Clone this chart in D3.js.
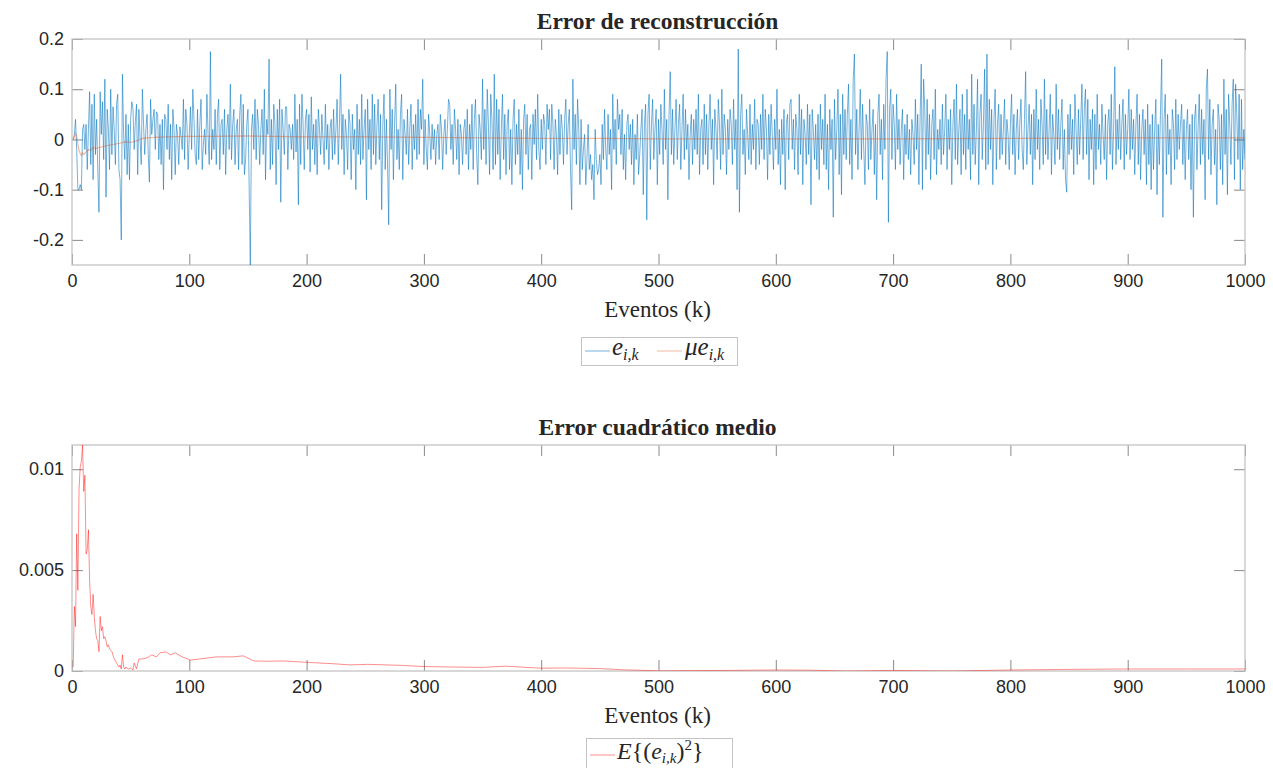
<!DOCTYPE html>
<html>
<head>
<meta charset="utf-8">
<script src="https://cdn.jsdelivr.net/npm/d3@7"></script>
<style>
  html, body { margin: 0; padding: 0; background: #fff; }
  svg text { fill: #262626; }
</style>
</head>
<body>
<script>
// reconstruction error e_{i,k}, k = 1..1000
var errValues = [
 0,.01,.04,-.02,-.10,-.10,-.09,-.10,.02,.03,-.02,.03,-.06,.02,.095,-.05,.07,-.08,.09,-.03,
 .04,-.06,-.145,.095,.01,.075,-.04,.12,-.115,.06,.02,-.06,.10,-.03,.065,.02,-.05,.07,.09,-.06,
 -.08,-.20,.13,.01,-.04,.05,-.07,.03,-.08,.04,.075,.06,-.02,.035,.07,-.07,.06,.005,-.05,.10,
 .03,-.03,.02,.05,-.03,-.085,.08,.01,.04,.06,-.02,.055,.05,-.04,.03,-.05,.04,-.10,.05,.04,
 -.02,.07,-.04,.03,-.08,.06,.02,-.07,.03,.01,-.05,.025,.005,-.02,.08,-.04,.06,.03,-.06,.01,
 .065,-.02,.10,.04,-.03,-.05,.06,-.04,.03,.08,-.06,-.01,.02,-.03,.09,.01,-.05,.175,-.04,.02,
 -.02,.06,-.05,.05,.08,-.06,.03,.04,-.03,.06,-.07,.02,.05,-.02,.11,-.04,.03,.06,-.05,.02,
 .04,-.06,.05,.09,-.05,.07,-.07,-.04,.03,.06,-.09,-.25,.02,.05,-.02,.08,-.04,.06,.03,-.05,
 .02,.06,-.03,.10,-.08,.04,.01,.16,-.06,.04,-.05,.07,.03,-.09,.06,-.02,.08,-.125,.06,.02,
 -.03,.065,.065,-.06,.03,.02,-.02,.03,-.04,.09,-.025,.04,-.13,.07,-.05,.09,.03,-.06,.04,.06,
 -.02,.05,-.065,.085,-.02,.03,-.05,.04,-.07,.06,.02,-.03,.05,0,-.05,.07,-.02,.03,-.06,.02,
 .04,-.04,.06,-.03,.02,.08,-.05,.03,.13,-.02,.05,-.07,.04,.01,-.06,.06,.03,-.08,.05,-.02,
 .02,-.10,.07,-.03,.04,-.05,.09,-.04,.02,.06,-.12,.08,-.02,.04,-.06,.09,-.03,.07,-.05,.03,
 .08,-.04,.05,-.14,.03,.09,-.06,.04,-.05,-.17,.10,-.02,.06,-.08,.03,.11,-.04,.02,-.06,.05,
 .09,-.08,.04,.01,-.03,.06,-.05,.02,.07,-.06,.03,-.02,.05,-.04,.08,-.03,.06,.02,.12,-.05,
 .04,-.02,-.06,.05,.01,-.04,.03,-.02,.02,-.05,.01,.03,-.04,.05,.02,-.06,.01,.04,-.03,.02,
 .08,.07,-.02,.03,-.05,.06,.02,-.04,.04,-.07,.03,.01,-.05,.02,.04,-.03,.06,-.06,.03,-.02,
 .07,-.06,.04,.08,-.03,-.09,.05,.02,-.04,.12,-.02,.06,-.05,.10,.03,-.07,.09,.04,-.06,.13,
 -.05,.08,-.03,.06,-.08,.02,.09,-.04,.05,-.07,.03,.06,-.06,.02,-.09,.04,.08,-.05,.03,-.03,
 .06,-.07,.02,-.10,.04,.07,-.03,.05,-.06,.02,.03,-.08,.05,-.01,.06,-.04,.09,-.02,-.06,.04,
 -.02,.05,.03,-.05,.07,.02,.06,-.04,.07,.03,-.06,.04,.01,-.07,.06,-.03,.05,.02,-.05,.04,
 .08,-.03,.03,.06,-.06,-.14,.12,-.02,.05,-.05,.08,.02,-.09,.04,-.06,-.02,.01,-.09,-.04,.03,
 -.06,-.03,-.08,-.05,-.12,.02,-.04,-.07,-.06,-.03,-.09,.03,-.04,.06,-.02,-.06,.05,-.03,.02,-.10,
 .09,-.02,.04,-.05,.08,.02,.05,-.03,.06,-.06,.01,-.08,.03,.05,-.02,.03,-.05,.04,-.09,.01,
 -.04,.05,-.07,-.03,.02,.06,-.11,.03,.07,-.16,.05,.09,-.06,.03,.08,-.04,.02,.06,-.09,.04,
 -.03,.07,.02,-.05,.10,-.02,.04,-.12,.05,.135,-.03,.06,-.05,.02,.08,-.04,.03,.07,-.06,.02,
 .09,-.04,.06,-.02,.03,-.08,.01,.05,-.05,.04,-.02,.06,-.03,.09,-.07,.02,.04,-.05,.07,-.03,
 .05,-.06,.03,.09,-.02,.04,-.09,.06,.02,-.04,.08,.03,-.06,.10,-.03,.05,.02,-.07,.04,-.02,
 .06,.03,-.05,.08,-.02,.04,-.10,.18,-.145,.05,.09,-.03,.02,-.07,.06,.01,-.04,.07,-.05,.03,
 -.02,.08,-.06,.04,.03,-.05,.05,-.02,.09,-.04,.06,.02,-.08,.05,-.03,.07,.01,-.06,.04,-.02,
 .10,-.05,.02,-.09,.04,-.03,.06,-.10,.03,.05,-.04,.07,.08,-.02,.04,-.06,.05,.02,-.07,.09,
 -.03,.06,-.09,.04,.01,-.05,.07,-.03,.05,-.13,.06,.02,-.04,.03,-.06,.05,-.08,.07,-.02,.04,
 -.05,.09,-.06,.03,-.10,.06,-.02,.04,-.155,.08,-.04,.02,.10,-.07,.05,-.11,.09,-.03,.06,-.04,
 .05,.11,-.05,.04,-.08,.12,.17,-.03,.06,-.06,.02,.10,-.04,.07,-.02,-.09,.05,.03,-.06,.08,
 -.04,.02,.06,-.07,.03,-.12,.05,.09,-.03,.04,-.08,.07,-.02,.12,.175,-.165,.06,.10,-.04,.07,
 .03,-.06,.09,-.02,.04,-.05,.02,.06,-.08,.03,-.03,.05,-.04,.02,-.07,.04,.01,-.05,.08,-.02,
 .05,-.09,.04,.15,-.10,.12,.06,-.06,.08,-.03,.05,-.08,.03,.06,-.04,.10,-.07,.02,-.02,.04,
 -.05,.07,-.03,.02,.09,-.06,.04,-.02,.06,-.09,.03,.08,-.04,.11,-.05,.02,.06,-.07,.09,-.03,
 .05,-.06,.10,-.02,.04,-.08,.13,-.03,.07,-.05,.02,.12,-.09,.05,.09,-.04,.03,.14,-.06,.17,
 -.05,.08,-.02,.06,-.09,.04,.10,-.06,.03,.07,-.04,.05,-.03,.02,.08,-.05,.04,.01,-.06,.03,
 .09,-.03,.05,-.07,.02,.06,-.04,.03,.08,-.02,-.06,.04,.135,-.05,.02,.07,-.03,.05,-.09,.06,
 -.04,.10,-.02,.04,-.06,.08,.03,-.05,.12,-.03,.06,-.04,.02,.09,-.07,.05,.01,-.05,.11,-.02,
 .06,-.04,.03,.08,-.06,.02,-.08,-.105,.05,-.03,.07,-.02,.04,-.07,.09,.02,-.05,.06,-.03,.04,
 .11,-.04,.06,.10,-.03,.08,-.08,.04,-.02,.06,-.09,.05,-.06,.09,-.02,.03,-.05,.07,.01,-.04,
 .05,-.08,.03,.06,-.03,.09,-.06,.02,.145,-.05,.04,-.02,.07,-.04,.03,.08,-.06,.05,-.03,.02,
 .10,-.04,.06,-.02,.04,-.07,.03,.09,-.05,.05,-.08,.02,.06,-.03,.04,-.09,.07,-.05,.03,-.10,
 .05,-.06,.02,.08,-.11,.03,-.05,.06,.16,-.155,.04,.09,-.07,.05,-.03,.02,-.09,.06,.03,-.06,
 .08,-.04,.05,-.02,.03,.07,-.05,.04,-.08,.02,.06,-.04,.03,-.10,.05,-.155,.04,.07,-.06,.02,
 .09,-.05,.06,-.03,.04,-.12,.10,.14,-.04,.08,-.07,.03,.06,-.05,.02,-.13,.07,.04,-.06,.05,
 -.09,.12,-.03,.06,-.11,.09,.03,-.05,.07,.12,-.08,.11,.05,-.04,.09,-.10,.08,-.06,.02,-.04
];

// running mean of the error, mu e_{i,k}
var meanK = [1,2,3,4,5,6,7,8,9,10,12,14,16,18,20,25,30,35,40,45,50,55,60,70,80,100,120,150,170,200,250,300,350,400,450,500,550,600,700,800,900,1000];
var meanValues = [0,.005,.012,.008,-.01,-.022,-.028,-.032,-.026,-.03,-.025,-.02,-.022,-.016,-.018,-.015,-.012,-.01,-.008,-.005,-.006,-.003,.002,.004,.005,.006,.006,.007,.006,.005,.005,.004,.003,.002,.002,.001,.001,.001,.001,.002,.003,.003];

// mean squared error E{(e_{i,k})^2}
var mseK = [1,2,3,4,5,6,7,8,9,10,11,12,13,14,15,16,17,18,19,20,21,22,23,24,25,26,27,28,29,30,31,32,34,36,38,40,41,42,43,44,45,46,48,50,52,53,55,57,60,64,68,72,75,80,84,88,94,101,109,123,137,146,155,166,180,200,223,237,252,280,300,320,350,370,390,400,420,450,470,500,530,560,600,630,660,700,730,750,780,800,850,900,950,1000];
var mseValues = [.0002,.0032,.0022,.0068,.004,.009,.0101,.0104,.0112,.0089,.0097,.0058,.006,.007,.0045,.0032,.0028,.0038,.0027,.002,.0016,.0015,.00096,.0027,.002,.0022,.0016,.0017,.0015,.0012,.0013,.0011,.00096,.0006,.0004,.0002,.0003,.0001,.0008,.0002,.0001,.0002,.0001,.00015,.00005,.0004,.0001,.0006,.0006,.00065,.0008,.0007,.0009,.00095,.0008,.0009,.0007,.00054,.0006,.0007,.0007,.00075,.0005,.00048,.0005,.00043,.00036,.0003,.00033,.00028,.00022,.0002,.00018,.00024,.00017,.00014,.00015,.00012,.00006,.00001,.00002,.00003,.00005,.00004,0,.00003,.00001,0,.00003,.00005,.00008,.0001,.0001,.0001];

var xTicks = [0,100,200,300,400,500,600,700,800,900,1000];
var topTicks = [-0.2,-0.1,0,0.1,0.2];
var topTickLabels = ["-0.2","-0.1","0","0.1","0.2"];
var botTicks = [0,0.005,0.01];
var botTickLabels = ["0","0.005","0.01"];

var W = 1273, H = 768;
var left = 72, right = 1245;
var serif = "'Liberation Serif', 'Times New Roman', serif";

var svg = d3.select("body").append("svg")
    .attr("width", W)
    .attr("height", H)
    .style("display", "block");

var x = d3.scaleLinear().domain([0, 1000]).range([left, right]);

function panel(top, bottom, yDomain, yTicks, yLabels, title) {
  var y = d3.scaleLinear().domain(yDomain).range([bottom, top]);
  var g = svg.append("g");

  var clipId = "clip" + top;
  svg.append("clipPath").attr("id", clipId)
    .append("rect").attr("x", left).attr("y", top).attr("width", right - left).attr("height", bottom - top);

  var tickLen = 11;
  var ax = g.append("g").attr("transform", "translate(0," + bottom + ")")
      .call(d3.axisBottom(x).tickValues(xTicks).tickSize(-tickLen).tickPadding(9).tickFormat(d3.format("d")));
  var axT = g.append("g").attr("transform", "translate(0," + top + ")")
      .call(d3.axisTop(x).tickValues(xTicks).tickSize(-tickLen).tickFormat(""));
  var ay = g.append("g").attr("transform", "translate(" + left + ",0)")
      .call(d3.axisLeft(y).tickValues(yTicks).tickSize(-tickLen).tickPadding(8)
        .tickFormat(function(d, i) { return yLabels[i]; }));
  var ayR = g.append("g").attr("transform", "translate(" + right + ",0)")
      .call(d3.axisRight(y).tickValues(yTicks).tickSize(-tickLen).tickFormat(""));

  [ax, axT, ay, ayR].forEach(function(a) {
    a.select(".domain").remove();
    a.selectAll(".tick line").attr("stroke", "#8a8a8a").attr("stroke-width", 1);
    a.selectAll("text")
      .attr("font-family", "'Liberation Sans', Arial, sans-serif")
      .attr("font-size", 18)
      .attr("fill", "#262626");
  });

  g.append("rect")
      .attr("x", left).attr("y", top)
      .attr("width", right - left).attr("height", bottom - top)
      .attr("fill", "none")
      .attr("stroke", "#c4c4c4")
      .attr("stroke-width", 1.3);

  g.append("text")
      .attr("x", (left + right) / 2 - 1)
      .attr("y", top - 10)
      .attr("text-anchor", "middle")
      .attr("font-family", serif)
      .attr("font-weight", "bold")
      .attr("font-size", 23.5)
      .text(title);

  g.append("text")
      .attr("x", (left + right) / 2 - 1)
      .attr("y", bottom + 52)
      .attr("text-anchor", "middle")
      .attr("font-family", serif)
      .attr("font-size", 23)
      .text("Eventos (k)");

  return { y: y, clip: "url(#" + clipId + ")" };
}

// top panel
var p1 = panel(39, 265, [-0.25, 0.2], topTicks, topTickLabels, "Error de reconstrucción");

var errLine = d3.line()
    .x(function(d, i) { return x(i + 1); })
    .y(function(d) { return p1.y(d); });

svg.append("path")
    .datum(errValues)
    .attr("clip-path", p1.clip)
    .attr("d", errLine)
    .attr("fill", "none")
    .attr("stroke", "#0072BD")
    .attr("stroke-opacity", 0.55)
    .attr("stroke-width", 1);

var meanLine = d3.line()
    .x(function(d, i) { return x(meanK[i]); })
    .y(function(d) { return p1.y(d); });

svg.append("path")
    .datum(meanValues)
    .attr("clip-path", p1.clip)
    .attr("d", meanLine)
    .attr("fill", "none")
    .attr("stroke", "#D95319")
    .attr("stroke-opacity", 0.4)
    .attr("stroke-width", 1.2);

// bottom panel
var p2 = panel(445, 671, [0, 0.0112], botTicks, botTickLabels, "Error cuadrático medio");

var mseLine = d3.line()
    .x(function(d, i) { return x(mseK[i]); })
    .y(function(d) { return p2.y(d); });

svg.append("path")
    .datum(mseValues)
    .attr("clip-path", p2.clip)
    .attr("d", mseLine)
    .attr("fill", "none")
    .attr("stroke", "#ff0000")
    .attr("stroke-opacity", 0.45)
    .attr("stroke-width", 1);

// legends
function mathSub(t, base, sub) {
  t.append("tspan").attr("font-style", "italic").text(base);
  t.append("tspan").attr("font-style", "italic").attr("font-size", 16).attr("dy", 5).text(sub);
}

var lg1 = svg.append("g");
lg1.append("rect").attr("x", 581.5).attr("y", 337.5).attr("width", 156).attr("height", 28)
    .attr("fill", "#fff").attr("stroke", "#c4c4c4").attr("stroke-width", 1);
lg1.append("line").attr("x1", 585).attr("x2", 610).attr("y1", 351).attr("y2", 351)
    .attr("stroke", "#0072BD").attr("stroke-opacity", 0.55);
var t1 = lg1.append("text").attr("x", 612).attr("y", 355)
    .attr("font-family", serif).attr("font-size", 25);
mathSub(t1, "e", "i,k");
lg1.append("line").attr("x1", 657).attr("x2", 682).attr("y1", 351).attr("y2", 351)
    .attr("stroke", "#D95319").attr("stroke-opacity", 0.4);
var t2 = lg1.append("text").attr("x", 685).attr("y", 355)
    .attr("font-family", serif).attr("font-size", 25);
mathSub(t2, "\u03bce", "i,k");

var lg2 = svg.append("g");
lg2.append("rect").attr("x", 586.5).attr("y", 738.5).attr("width", 146).attr("height", 34)
    .attr("fill", "#fff").attr("stroke", "#c4c4c4").attr("stroke-width", 1);
lg2.append("line").attr("x1", 590).attr("x2", 615).attr("y1", 755).attr("y2", 755)
    .attr("stroke", "#ff0000").attr("stroke-opacity", 0.45);
var t3 = lg2.append("text").attr("x", 617).attr("y", 759)
    .attr("font-family", serif).attr("font-size", 24);
t3.append("tspan").attr("font-style", "italic").text("E");
t3.append("tspan").text("{(");
t3.append("tspan").attr("font-style", "italic").text("e");
t3.append("tspan").attr("font-style", "italic").attr("font-size", 15).attr("dy", 4).text("i,k");
t3.append("tspan").attr("dy", -4).text(")");
t3.append("tspan").attr("font-size", 15).attr("dy", -9).text("2");
t3.append("tspan").attr("dy", 9).text("}");
</script>
</body>
</html>
